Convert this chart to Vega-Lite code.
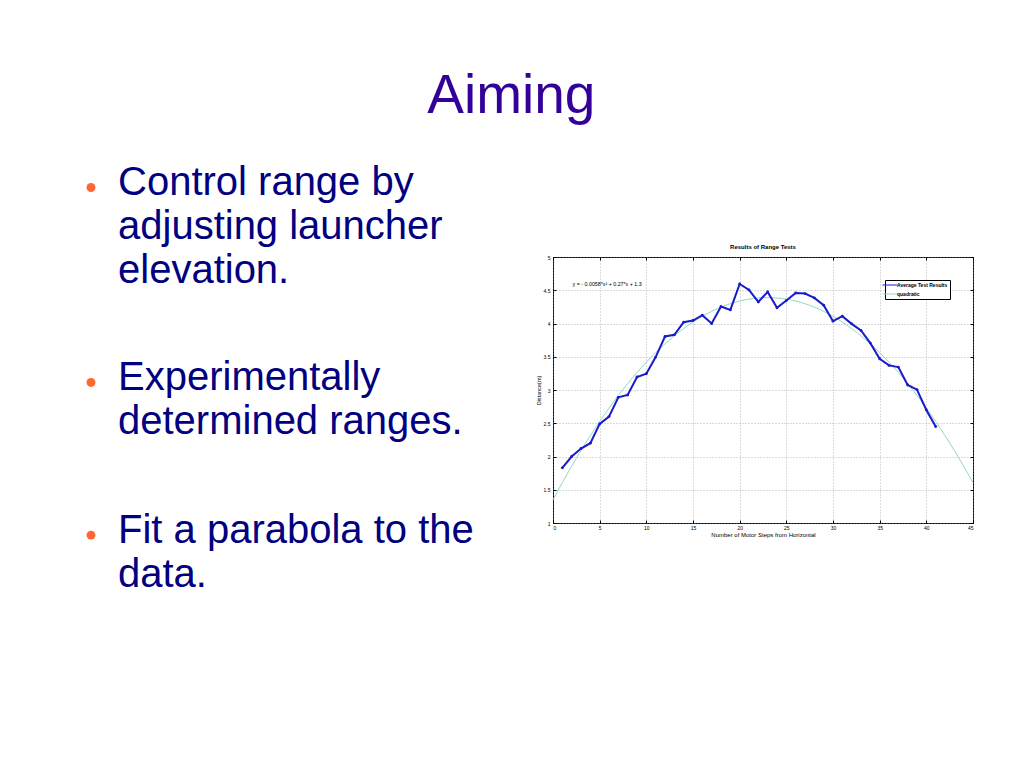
{
  "$schema": "https://vega.github.io/schema/vega-lite/v6.json",
  "background": "white",
  "padding": {"left": 86, "top": 68, "right": 0, "bottom": 0},
  "config": {"font": "Liberation Sans", "view": {"stroke": null}},
  "title": {"text": "Aiming", "fontSize": 55, "fontWeight": "normal", "color": "#330099", "anchor": "middle", "offset": 38, "dx": -20},
  "bounds": "flush",
  "spacing": 435,
  "resolve": {"scale": {"color": "independent"}, "legend": {"color": "independent"}},
  "hconcat": [
    {
      "width": 27,
      "height": 266,
      "view": {"stroke": null},
      "data": {"values": [
        {"para": 1, "line": 0, "pos": 0, "text": "Control range by"},
        {"para": 1, "line": 1, "pos": 1, "text": "adjusting launcher"},
        {"para": 1, "line": 2, "pos": 2, "text": "elevation."},
        {"para": 2, "line": 0, "pos": 4.43, "text": "Experimentally"},
        {"para": 2, "line": 1, "pos": 5.43, "text": "determined ranges."},
        {"para": 3, "line": 0, "pos": 7.9, "text": "Fit a parabola to the"},
        {"para": 3, "line": 1, "pos": 8.9, "text": "data."}
      ]},
      "layer": [
        {
          "mark": {"type": "text", "align": "left", "baseline": "alphabetic", "fontSize": 40, "color": "#000080"},
          "encoding": {
            "x": {"datum": "text", "type": "nominal", "scale": {"type": "point", "domain": ["bullet", "text"], "padding": 0}, "axis": null},
            "y": {"field": "pos", "type": "quantitative", "scale": {"domain": [1.4091, 7.4545], "reverse": true, "zero": false, "nice": false}, "axis": null},
            "text": {"field": "text"}
          }
        },
        {
          "transform": [{"filter": "datum.line == 0"}],
          "mark": {"type": "point", "shape": "circle", "filled": true, "size": 80, "color": "#FF6633", "opacity": 1, "yOffset": -7.5},
          "encoding": {
            "x": {"datum": "bullet", "type": "nominal", "scale": {"type": "point", "domain": ["bullet", "text"], "padding": 0}, "axis": null},
            "y": {"field": "pos", "type": "quantitative", "scale": {"domain": [1.4091, 7.4545], "reverse": true, "zero": false, "nice": false}, "axis": null}
          }
        }
      ]
    },
    {
      "width": 420,
      "height": 266,
      "view": {"stroke": "black", "strokeWidth": 1},
      "title": {"text": "Results of Range Tests", "fontSize": 6, "fontWeight": "bold", "color": "black", "offset": 4},
      "layer": [
        {
          "data": {"values": [
            {"x": 0, "y": 1.348}, {"x": 1, "y": 1.607}, {"x": 2, "y": 1.854}, {"x": 3, "y": 2.09}, {"x": 4, "y": 2.314},
            {"x": 5, "y": 2.527}, {"x": 6, "y": 2.728}, {"x": 7, "y": 2.918}, {"x": 8, "y": 3.096}, {"x": 9, "y": 3.263},
            {"x": 10, "y": 3.418}, {"x": 11, "y": 3.562}, {"x": 12, "y": 3.694}, {"x": 13, "y": 3.815}, {"x": 14, "y": 3.924},
            {"x": 15, "y": 4.022}, {"x": 16, "y": 4.108}, {"x": 17, "y": 4.183}, {"x": 18, "y": 4.246}, {"x": 19, "y": 4.298},
            {"x": 20, "y": 4.338}, {"x": 21, "y": 4.367}, {"x": 22, "y": 4.384}, {"x": 23, "y": 4.39}, {"x": 24, "y": 4.384},
            {"x": 25, "y": 4.367}, {"x": 26, "y": 4.338}, {"x": 27, "y": 4.298}, {"x": 28, "y": 4.246}, {"x": 29, "y": 4.183},
            {"x": 30, "y": 4.108}, {"x": 31, "y": 4.022}, {"x": 32, "y": 3.924}, {"x": 33, "y": 3.815}, {"x": 34, "y": 3.694},
            {"x": 35, "y": 3.562}, {"x": 36, "y": 3.418}, {"x": 37, "y": 3.263}, {"x": 38, "y": 3.096}, {"x": 39, "y": 2.918},
            {"x": 40, "y": 2.728}, {"x": 41, "y": 2.527}, {"x": 42, "y": 2.314}, {"x": 43, "y": 2.09}, {"x": 44, "y": 1.854},
            {"x": 45, "y": 1.607}
          ]},
          "mark": {"type": "line", "strokeWidth": 1, "interpolate": "monotone"},
          "encoding": {
            "x": {"field": "x", "type": "quantitative", "scale": {"domain": [0, 45], "nice": false},
              "axis": {"orient": "bottom", "values": [0, 5, 10, 15, 20, 25, 30, 35, 40, 45], "title": "Number of Motor Steps from Horizontal", "titleFontSize": 6, "titleFontWeight": "normal", "titleColor": "black", "titlePadding": 1, "labelFontSize": 5, "labelColor": "black", "labelPadding": 5, "tickSize": -3, "tickColor": "black", "domain": false, "grid": true, "gridDash": [1, 2], "gridColor": "#999999", "gridWidth": 0.7}},
            "y": {"field": "y", "type": "quantitative", "scale": {"domain": [1, 5], "nice": false, "zero": false},
              "axis": {"orient": "left", "values": [1, 1.5, 2, 2.5, 3, 3.5, 4, 4.5, 5], "format": "~g", "title": "Distance(m)", "titleFontSize": 5.5, "titleFontWeight": "normal", "titleColor": "black", "titlePadding": 2, "labelFontSize": 5, "labelColor": "black", "labelPadding": 6, "tickSize": -3, "tickColor": "black", "domain": false, "grid": true, "gridDash": [1, 2], "gridColor": "#999999", "gridWidth": 0.7}},
            "color": {"datum": "quadratic", "type": "nominal",
              "scale": {"domain": ["Average Test Results", "quadratic"], "range": ["#1a1acc", "#8fd8c6"]},
              "legend": {"title": null, "orient": "top-right", "offset": 23, "symbolType": "M-3,0L3,0", "symbolSize": 25, "symbolStrokeWidth": 1, "labelFontSize": 5, "labelFontWeight": "bold", "labelColor": "black", "strokeColor": "black", "fillColor": "white", "padding": 2, "rowPadding": 3, "labelOffset": 4}}
          }
        },
        {
          "data": {"values": [
            {"x": 1, "y": 1.83}, {"x": 2, "y": 2.0}, {"x": 3, "y": 2.12}, {"x": 4, "y": 2.2}, {"x": 5, "y": 2.49},
            {"x": 6, "y": 2.6}, {"x": 7, "y": 2.89}, {"x": 8, "y": 2.925}, {"x": 9, "y": 3.195}, {"x": 10, "y": 3.245},
            {"x": 11, "y": 3.495}, {"x": 12, "y": 3.805}, {"x": 13, "y": 3.83}, {"x": 14, "y": 4.02}, {"x": 15, "y": 4.045},
            {"x": 16, "y": 4.125}, {"x": 17, "y": 4.0}, {"x": 18, "y": 4.255}, {"x": 19, "y": 4.205}, {"x": 20, "y": 4.595},
            {"x": 21, "y": 4.505}, {"x": 22, "y": 4.325}, {"x": 23, "y": 4.475}, {"x": 24, "y": 4.235}, {"x": 25, "y": 4.345},
            {"x": 26, "y": 4.46}, {"x": 27, "y": 4.45}, {"x": 28, "y": 4.385}, {"x": 29, "y": 4.275}, {"x": 30, "y": 4.035},
            {"x": 31, "y": 4.11}, {"x": 32, "y": 3.995}, {"x": 33, "y": 3.895}, {"x": 34, "y": 3.705}, {"x": 35, "y": 3.47},
            {"x": 36, "y": 3.37}, {"x": 37, "y": 3.345}, {"x": 38, "y": 3.075}, {"x": 39, "y": 3.005}, {"x": 40, "y": 2.7},
            {"x": 41, "y": 2.45}
          ]},
          "mark": {"type": "line", "strokeWidth": 2, "point": {"filled": true, "size": 8}},
          "encoding": {
            "x": {"field": "x", "type": "quantitative", "axis": null},
            "y": {"field": "y", "type": "quantitative", "axis": null},
            "color": {"datum": "Average Test Results", "type": "nominal"}
          }
        },
        {
          "data": {"values": [{"label": "y = - 0.0058*x² + 0.27*x + 1.3"}]},
          "mark": {"type": "text", "align": "left", "baseline": "middle", "fontSize": 5.3, "color": "black"},
          "encoding": {
            "x": {"datum": 2.1, "type": "quantitative", "axis": null},
            "y": {"datum": 4.6, "type": "quantitative", "axis": null},
            "text": {"field": "label"}
          }
        },
        {
          "data": {"values": [{"x": 0, "y": 1}, {"x": 45, "y": 5}]},
          "mark": {"type": "point", "opacity": 0},
          "encoding": {
            "x": {"field": "x", "type": "quantitative", "axis": {"orient": "top", "values": [0, 5, 10, 15, 20, 25, 30, 35, 40, 45], "labels": false, "title": null, "grid": false, "domain": false, "tickSize": -3, "tickColor": "black"}},
            "y": {"field": "y", "type": "quantitative", "axis": {"orient": "right", "values": [1, 1.5, 2, 2.5, 3, 3.5, 4, 4.5, 5], "labels": false, "title": null, "grid": false, "domain": false, "tickSize": -3, "tickColor": "black"}}
          }
        }
      ],
      "resolve": {"axis": {"x": "independent", "y": "independent"}}
    }
  ]
}
